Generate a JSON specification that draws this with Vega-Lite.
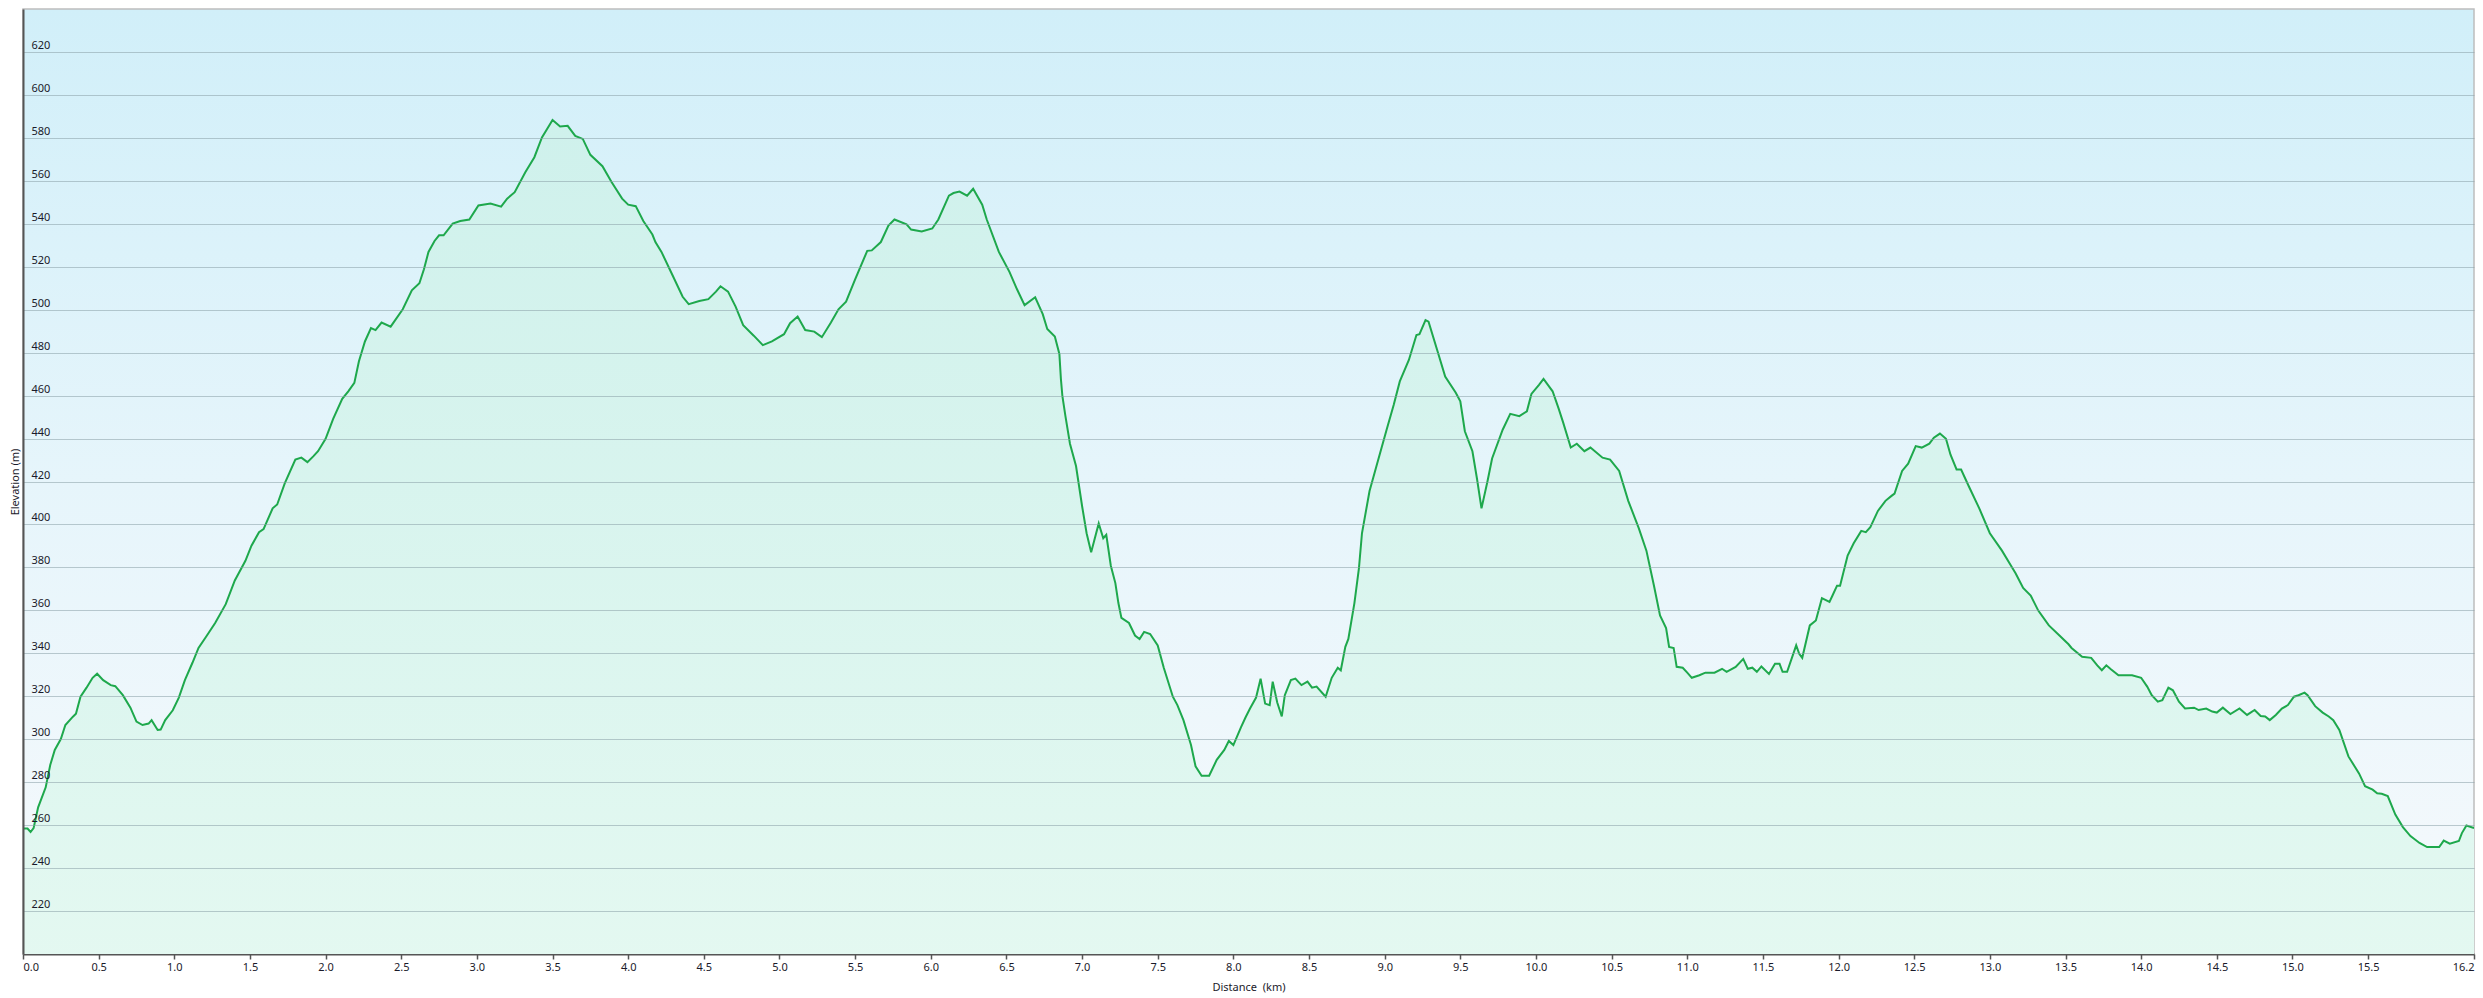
{
  "$schema": "https://vega.github.io/schema/vega-lite/v6.json",
  "width": 2451,
  "height": 945,
  "autosize": {"type": "none"},
  "padding": {"left": 23, "top": 9, "right": 9, "bottom": 44},
  "background": "#ffffff",
  "config": {
    "font": "Noto Sans",
    "view": {
      "stroke": "#bdbdbd",
      "strokeWidth": 1.5,
      "fill": {"gradient": "linear", "x1": 0, "y1": 0, "x2": 0, "y2": 1,
        "stops": [{"offset": 0, "color": "#d1eff9"}, {"offset": 0.5, "color": "#e6f5fb"}, {"offset": 1, "color": "#f6f9fc"}]}
    }
  },
  "data": {"values": [
    {"d":0,"e":258.4},{"d":0.03,"e":258.4},{"d":0.05,"e":256.8},{"d":0.07,"e":258.6},{"d":0.10,"e":268.3},{"d":0.15,"e":277.6},{"d":0.18,"e":288.0},{"d":0.21,"e":295.0},{"d":0.25,"e":300.1},{"d":0.28,"e":306.6},{"d":0.33,"e":310.5},{"d":0.35,"e":311.9},{"d":0.38,"e":319.8},{"d":0.42,"e":324.0},{"d":0.46,"e":328.6},{"d":0.49,"e":330.5},{"d":0.53,"e":327.5},{"d":0.58,"e":325.2},{"d":0.61,"e":324.7},{"d":0.66,"e":320.5},{"d":0.71,"e":314.7},{"d":0.75,"e":308.2},{"d":0.79,"e":306.6},{"d":0.83,"e":307.3},{"d":0.85,"e":308.9},{"d":0.89,"e":304.3},{"d":0.91,"e":304.5},{"d":0.94,"e":308.9},{"d":0.99,"e":313.5},{"d":1.03,"e":319.4},{"d":1.07,"e":327.5},{"d":1.12,"e":335.6},{"d":1.16,"e":342.5},{"d":1.21,"e":347.7},{"d":1.27,"e":354.1},{"d":1.34,"e":362.9},{"d":1.40,"e":373.9},{"d":1.47,"e":383.1},{"d":1.51,"e":390.1},{"d":1.56,"e":396.4},{"d":1.59,"e":397.8},{"d":1.65,"e":407.5},{"d":1.68,"e":409.3},{"d":1.73,"e":419.1},{"d":1.80,"e":430.2},{"d":1.84,"e":431.1},{"d":1.88,"e":429.0},{"d":1.92,"e":431.8},{"d":1.95,"e":434.1},{"d":2.00,"e":439.9},{"d":2.05,"e":449.2},{"d":2.11,"e":458.5},{"d":2.15,"e":462.0},{"d":2.19,"e":465.9},{"d":2.22,"e":475.9},{"d":2.26,"e":485.2},{"d":2.30,"e":491.4},{"d":2.33,"e":490.5},{"d":2.37,"e":494.0},{"d":2.43,"e":492.1},{"d":2.51,"e":500.2},{"d":2.57,"e":509.0},{"d":2.62,"e":512.3},{"d":2.65,"e":518.8},{"d":2.68,"e":526.9},{"d":2.72,"e":532.0},
    {"d":2.75,"e":534.6},{"d":2.78,"e":534.6},{"d":2.84,"e":540.1},{"d":2.89,"e":541.3},{"d":2.95,"e":542.0},{"d":3.01,"e":548.5},{"d":3.09,"e":549.4},{"d":3.16,"e":548.0},{"d":3.20,"e":551.7},{"d":3.25,"e":554.7},{"d":3.32,"e":564.0},{"d":3.38,"e":571.0},{"d":3.43,"e":580.2},{"d":3.46,"e":583.7},{"d":3.50,"e":588.3},{"d":3.55,"e":585.3},{"d":3.60,"e":585.6},{"d":3.65,"e":580.9},{"d":3.70,"e":579.5},{"d":3.75,"e":572.1},{"d":3.83,"e":566.8},{"d":3.89,"e":559.4},{"d":3.96,"e":551.7},{"d":4.00,"e":548.9},{"d":4.05,"e":548.2},{"d":4.10,"e":541.3},{"d":4.16,"e":535.0},{"d":4.18,"e":531.5},{"d":4.22,"e":526.9},{"d":4.29,"e":516.5},{"d":4.36,"e":506.0},{"d":4.40,"e":502.6},{"d":4.47,"e":504.0},{"d":4.53,"e":504.9},{"d":4.58,"e":508.4},{"d":4.61,"e":510.9},{"d":4.66,"e":508.4},{"d":4.71,"e":501.4},{"d":4.76,"e":492.8},{"d":4.83,"e":487.9},{"d":4.89,"e":483.5},{"d":4.95,"e":485.2},{"d":5.03,"e":488.6},{"d":5.07,"e":493.7},{"d":5.12,"e":496.8},{"d":5.17,"e":490.5},{"d":5.23,"e":489.8},{"d":5.28,"e":487.2},{"d":5.34,"e":494.0},{"d":5.39,"e":500.2},
    {"d":5.44,"e":503.7},{"d":5.50,"e":514.1},{"d":5.58,"e":527.4},{"d":5.61,"e":527.6},{"d":5.67,"e":531.5},{"d":5.72,"e":539.2},{"d":5.76,"e":542.0},{"d":5.84,"e":539.7},{"d":5.87,"e":537.3},{"d":5.94,"e":536.4},{"d":6.01,"e":537.8},{"d":6.05,"e":542.0},{"d":6.12,"e":553.1},{"d":6.15,"e":554.3},{"d":6.19,"e":555.0},{"d":6.24,"e":553.1},{"d":6.28,"e":556.3},{"d":6.34,"e":548.9},{"d":6.37,"e":542.0},{"d":6.45,"e":526.9},{"d":6.52,"e":517.6},{"d":6.57,"e":509.5},{"d":6.62,"e":502.1},{"d":6.69,"e":505.8},{"d":6.74,"e":497.9},{"d":6.77,"e":491.0},{"d":6.82,"e":487.5},{"d":6.85,"e":479.4},{"d":6.86,"e":467.8},{"d":6.87,"e":459.7},{"d":6.89,"e":450.4},{"d":6.92,"e":437.6},{"d":6.96,"e":427.2},{"d":7.00,"e":408.6},{"d":7.03,"e":395.9},{"d":7.06,"e":387.1},{"d":7.08,"e":392.4},{"d":7.11,"e":400.5},{"d":7.14,"e":393.6},{"d":7.16,"e":395.2},{"d":7.19,"e":380.8},{"d":7.22,"e":372.7},{"d":7.24,"e":363.4},{"d":7.26,"e":356.5},{"d":7.31,"e":354.1},{"d":7.35,"e":348.3},{"d":7.38,"e":346.7},{"d":7.41,"e":350.0},{"d":7.45,"e":349.0},{"d":7.50,"e":343.7},{"d":7.54,"e":333.3},{"d":7.60,"e":319.8},{"d":7.63,"e":315.9},{"d":7.67,"e":308.9},{"d":7.72,"e":297.3},{"d":7.75,"e":287.4},{"d":7.79,"e":283.0},{"d":7.84,"e":283.0},{"d":7.89,"e":290.4},{"d":7.94,"e":295.0},{"d":7.97,"e":299.2},{"d":8.00,"e":297.3},{"d":8.05,"e":305.5},
    {"d":8.08,"e":310.1},{"d":8.11,"e":314.3},{"d":8.15,"e":319.4},{"d":8.18,"e":328.2},{"d":8.21,"e":316.6},{"d":8.24,"e":315.9},{"d":8.26,"e":326.8},{"d":8.29,"e":317.1},{"d":8.32,"e":310.6},{"d":8.34,"e":320.5},{"d":8.38,"e":327.5},{"d":8.41,"e":328.2},{"d":8.45,"e":325.2},{"d":8.49,"e":326.8},{"d":8.52,"e":324.0},{"d":8.55,"e":324.5},{"d":8.61,"e":319.8},{"d":8.65,"e":328.6},{"d":8.69,"e":333.3},{"d":8.71,"e":332.1},{"d":8.74,"e":343.0},{"d":8.76,"e":346.7},{"d":8.80,"e":363.4},{"d":8.83,"e":379.7},{"d":8.85,"e":395.9},{"d":8.90,"e":415.6},{"d":8.95,"e":428.3},{"d":9.01,"e":443.4},{"d":9.06,"e":455.7},{"d":9.10,"e":466.6},{"d":9.16,"e":476.6},{"d":9.21,"e":488.2},{"d":9.23,"e":488.6},{"d":9.27,"e":495.1},{"d":9.29,"e":494.4},{"d":9.35,"e":480.5},{"d":9.40,"e":468.9},{"d":9.47,"e":461.3},{"d":9.50,"e":457.3},{"d":9.53,"e":443.4},{"d":9.58,"e":434.1},{"d":9.61,"e":421.4},{"d":9.64,"e":407.5},{"d":9.68,"e":420.2},{"d":9.71,"e":430.7},{"d":9.78,"e":444.1},{"d":9.83,"e":451.5},{"d":9.89,"e":450.4},{"d":9.94,"e":452.7},{"d":9.97,"e":460.8},{"d":10.02,"e":465.0},{"d":10.05,"e":467.8},{"d":10.11,"e":462.0},{"d":10.15,"e":453.9},{"d":10.18,"e":447.4},{"d":10.23,"e":435.8},{"d":10.27,"e":437.6},{"d":10.32,"e":434.1},{"d":10.36,"e":435.8},{"d":10.44,"e":431.1},{"d":10.49,"e":430.2},{"d":10.55,"e":424.9},{"d":10.61,"e":411.0},{"d":10.68,"e":398.2},{"d":10.73,"e":387.8},{"d":10.78,"e":371.5},{"d":10.82,"e":357.6},
    {"d":10.86,"e":351.8},{"d":10.88,"e":343.0},{"d":10.91,"e":342.5},{"d":10.93,"e":333.7},{"d":10.97,"e":333.3},{"d":11.00,"e":331.0},{"d":11.03,"e":328.6},{"d":11.08,"e":329.8},{"d":11.12,"e":331.0},{"d":11.18,"e":331.0},{"d":11.23,"e":332.8},{"d":11.26,"e":331.4},{"d":11.32,"e":333.7},{"d":11.37,"e":337.4},{"d":11.40,"e":332.8},{"d":11.43,"e":333.3},{"d":11.46,"e":331.4},{"d":11.49,"e":333.9},{"d":11.54,"e":330.4},{"d":11.58,"e":335.1},{"d":11.61,"e":335.1},{"d":11.63,"e":331.4},{"d":11.66,"e":331.4},{"d":11.72,"e":343.7},{"d":11.74,"e":339.8},{"d":11.76,"e":337.9},{"d":11.81,"e":353.0},{"d":11.85,"e":355.3},{"d":11.89,"e":365.7},{"d":11.94,"e":363.9},{"d":11.96,"e":366.9},{"d":11.99,"e":371.5},{"d":12.01,"e":371.5},{"d":12.06,"e":385.5},{"d":12.10,"e":391.2},{"d":12.15,"e":397.0},{"d":12.18,"e":396.4},{"d":12.21,"e":398.7},{"d":12.26,"e":406.3},{"d":12.31,"e":411.0},{"d":12.35,"e":413.3},{"d":12.37,"e":414.4},{"d":12.42,"e":424.9},{"d":12.46,"e":428.3},{"d":12.51,"e":436.5},{"d":12.55,"e":435.8},{"d":12.60,"e":437.6},{"d":12.63,"e":440.4},{"d":12.67,"e":442.3},{"d":12.71,"e":439.9},{"d":12.74,"e":432.5},{"d":12.78,"e":425.6},{"d":12.81,"e":425.6},{"d":12.86,"e":417.9},{"d":12.93,"e":407.5},{"d":13.00,"e":395.9},{"d":13.08,"e":387.8},{"d":13.14,"e":380.8},{"d":13.17,"e":377.3},{"d":13.22,"e":370.4},{"d":13.27,"e":366.9},{"d":13.32,"e":359.9},{"d":13.39,"e":353.0},{"d":13.46,"e":348.3},{"d":13.52,"e":344.2},
    {"d":13.54,"e":342.5},{"d":13.61,"e":338.4},{"d":13.67,"e":337.9},{"d":13.71,"e":334.4},{"d":13.74,"e":332.1},{"d":13.77,"e":334.4},{"d":13.80,"e":332.6},{"d":13.85,"e":329.8},{"d":13.94,"e":329.8},{"d":14.00,"e":328.6},{"d":14.04,"e":324.5},{"d":14.07,"e":320.5},{"d":14.11,"e":317.5},{"d":14.14,"e":318.2},{"d":14.18,"e":324.0},{"d":14.21,"e":322.8},{"d":14.25,"e":317.5},{"d":14.29,"e":314.3},{"d":14.35,"e":314.7},{"d":14.38,"e":313.6},{"d":14.43,"e":314.3},{"d":14.47,"e":312.9},{"d":14.50,"e":312.4},{"d":14.54,"e":314.7},{"d":14.59,"e":311.7},{"d":14.65,"e":314.3},{"d":14.70,"e":311.3},{"d":14.75,"e":313.6},{"d":14.79,"e":310.8},{"d":14.82,"e":310.6},{"d":14.85,"e":308.9},{"d":14.89,"e":311.3},{"d":14.93,"e":314.3},{"d":14.97,"e":315.9},{"d":15.01,"e":319.8},{"d":15.04,"e":320.5},{"d":15.08,"e":321.7},{"d":15.10,"e":320.5},{"d":15.15,"e":315.4},{"d":15.20,"e":312.4},{"d":15.24,"e":310.6},{"d":15.27,"e":308.9},{"d":15.31,"e":304.3},{"d":15.37,"e":292.0},{"d":15.44,"e":284.1},{"d":15.48,"e":278.1},{"d":15.53,"e":276.5},{"d":15.56,"e":274.8},{"d":15.59,"e":274.6},{"d":15.63,"e":273.5},{"d":15.68,"e":264.9},{"d":15.73,"e":259.1},{"d":15.78,"e":254.9},{"d":15.84,"e":251.7},{"d":15.89,"e":249.8},{"d":15.97,"e":249.8},{"d":16.00,"e":252.8},{"d":16.04,"e":251.4},{"d":16.10,"e":252.6},{"d":16.12,"e":256.3},{"d":16.15,"e":259.8},{"d":16.20,"e":258.6}
  ]},
  "encoding": {
    "x": {
      "field": "d", "type": "quantitative",
      "scale": {"domain": [0, 16.2], "nice": false, "zero": false},
      "axis": {
        "title": "Distance\u00a0\u00a0(km)",
        "values": [0,0.5,1,1.5,2,2.5,3,3.5,4,4.5,5,5.5,6,6.5,7,7.5,8,8.5,9,9.5,10,10.5,11,11.5,12,12.5,13,13.5,14,14.5,15,15.5,16.2],
        "format": ".1f",
        "grid": false,
        "domainColor": "#555555", "domainWidth": 2,
        "tickColor": "#555555", "tickWidth": 1.5, "tickSize": 5,
        "labelFlush": true, "labelOverlap": false,
        "labelPadding": 2, "labelFontSize": 11, "labelColor": "#1a1a2a", "labelFont": "Noto Sans",
        "titleFontSize": 11, "titleFontWeight": "normal", "titleColor": "#1a1a2a", "titlePadding": 9, "titleFont": "Noto Sans"
      }
    },
    "y": {
      "field": "e", "type": "quantitative",
      "scale": {"domain": [200, 640], "nice": false, "zero": false},
      "axis": {
        "title": "Elevation (m)",
        "values": [220,240,260,280,300,320,340,360,380,400,420,440,460,480,500,520,540,560,580,600,620],
        "grid": true, "gridColor": "#8aa0a8", "gridOpacity": 0.55, "gridWidth": 1,
        "zindex": 1,
        "domainColor": "#555555", "domainWidth": 2,
        "ticks": false, "tickSize": 0,
        "labelAlign": "left", "labelBaseline": "alphabetic", "labelPadding": -8, "labelOffset": -3.5,
        "labelFlush": false, "labelOverlap": false,
        "labelFontSize": 11, "labelColor": "#1a1a2a", "labelFont": "Noto Sans",
        "titleFontSize": 11, "titleFontWeight": "normal", "titleColor": "#1a1a2a", "titlePadding": 3, "titleFont": "Noto Sans"
      }
    }
  },
  "layer": [
    {
      "mark": {
        "type": "area", "clip": true,
        "color": {"gradient": "linear", "x1": 0, "y1": 0, "x2": 0, "y2": 1,
          "stops": [{"offset": 0, "color": "#cff1ec"}, {"offset": 1, "color": "#eefcf3"}]}
      }
    },
    {
      "mark": {"type": "line", "clip": true, "color": "#1ea84c", "strokeWidth": 2}
    }
  ]
}
